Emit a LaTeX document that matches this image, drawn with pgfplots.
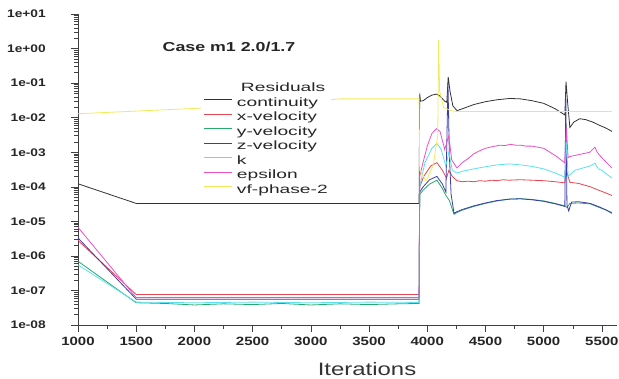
\documentclass[border=0pt]{standalone}
\usepackage{fontspec}
\setmainfont{Liberation Sans}
\newfontfamily\tickfont[FakeStretch=1.25]{Liberation Sans}
\newfontfamily\legfont[FakeStretch=1.6]{Liberation Sans}
\newfontfamily\labfont[FakeStretch=1.33]{Liberation Sans}
\newfontfamily\titfont[FakeStretch=1.37]{Liberation Sans}
\usepackage{pgfplots}
\pgfplotsset{compat=1.18}
\definecolor{ccont}{RGB}{50,50,50}
\definecolor{cxv}{RGB}{230,70,80}
\definecolor{cyv}{RGB}{40,170,110}
\definecolor{czv}{RGB}{60,60,170}
\definecolor{ck}{RGB}{90,225,240}
\definecolor{ceps}{RGB}{235,80,200}
\definecolor{cvf}{RGB}{240,235,90}
\begin{document}
\begin{tikzpicture}
\useasboundingbox (-78pt,-53pt) rectangle (541pt,325pt);
\begin{axis}[
  at={(0pt,0pt)}, anchor=south west, scale only axis,
  width=539pt, height=311pt,
  xmin=1000, xmax=5630, ymin=1e-8, ymax=10, ymode=log,
  axis x line*=bottom, axis y line*=left,
  axis line style={black!75, line width=0.6pt},
  tick style={black!75, line width=0.5pt},
  tick align=outside,
  major tick length=7pt, minor tick length=4pt,
  xtick={1000,1500,2000,2500,3000,3500,4000,4500,5000,5500},
  xticklabels={1000,1500,2000,2500,3000,3500,4000,4500,5000,5500},
  minor xtick={1250,1750,2250,2750,3250,3750,4250,4750,5250},
  ytick={1e-8,1e-7,1e-6,1e-5,1e-4,1e-3,1e-2,1e-1,1,10},
  yticklabels={1e-08,1e-07,1e-06,1e-05,1e-04,1e-03,1e-02,1e-01,1e+00,1e+01},
  minor ytick={2e-8,3e-8,4e-8,5e-8,6e-8,7e-8,8e-8,9e-8,
    2e-7,3e-7,4e-7,5e-7,6e-7,7e-7,8e-7,9e-7,
    2e-6,3e-6,4e-6,5e-6,6e-6,7e-6,8e-6,9e-6,
    2e-5,3e-5,4e-5,5e-5,6e-5,7e-5,8e-5,9e-5,
    2e-4,3e-4,4e-4,5e-4,6e-4,7e-4,8e-4,9e-4,
    2e-3,3e-3,4e-3,5e-3,6e-3,7e-3,8e-3,9e-3,
    2e-2,3e-2,4e-2,5e-2,6e-2,7e-2,8e-2,9e-2,
    2e-1,3e-1,4e-1,5e-1,6e-1,7e-1,8e-1,9e-1,
    2,3,4,5,6,7,8,9},
  xticklabel style={font=\tickfont\bfseries\fontsize{12}{12}\selectfont, text=black!85, inner sep=0pt, anchor=north, yshift=-5pt},
  yticklabel style={font=\tickfont\bfseries\fontsize{11}{11}\selectfont, text=black!85, inner sep=0pt, anchor=east, xshift=-25pt},
  legend style={draw=none, fill=white, inner sep=2pt, at={(0.2282,0.790)}, anchor=north west,
    font=\legfont\fontsize{12}{12}\selectfont, text=black!85,
    nodes={inner sep=1pt, text height=9pt, text depth=3pt},
    row sep=0.5pt, column sep=4pt},
  legend cell align=left,
  legend image code/.code={\draw[#1] (0pt,3.5pt) -- (28pt,3.5pt);},
  every axis plot/.append style={line width=0.8pt},
]
\addlegendimage{empty legend}
\addlegendentry{\hspace{4pt}Residuals}
\addplot[ccont] coordinates {(1000,1.22e-4)(1500,3.3e-5)(3930,3.3e-5)(3935,0.05)(3942,0.03)(3965,0.031)(4000,0.038)(4040,0.045)(4080,0.048)(4110,0.042)(4150,0.03)(4168,0.028)(4180,0.15)(4195,0.06)(4220,0.022)(4255,0.016)(4300,0.018)(4400,0.024)(4500,0.029)(4600,0.033)(4710,0.036)(4800,0.035)(4900,0.031)(5000,0.026)(5100,0.018)(5182,0.012)(5192,0.11)(5205,0.03)(5225,0.0052)(5260,0.0075)(5310,0.0093)(5360,0.0088)(5420,0.0075)(5480,0.006)(5540,0.0049)(5586,0.0040)};
\addlegendentry{continuity}
\addplot[cxv] coordinates {(1000,2.8e-6)(1500,7.6e-8)(3930,7.6e-8)(3935,1e-4)(3970,2e-4)(4030,4e-4)(4083,5e-4)(4130,3e-4)(4165,1.8e-4)(4186,3e-4)(4215,2e-4)(4255,1.5e-4)(4300,1.4e-4)(4350,1.45e-4)(4400,1.4e-4)(4450,1.5e-4)(4500,1.45e-4)(4550,1.55e-4)(4600,1.5e-4)(4650,1.6e-4)(4700,1.55e-4)(4800,1.6e-4)(4900,1.55e-4)(5000,1.5e-4)(5100,1.4e-4)(5182,1.3e-4)(5195,3e-4)(5225,1.35e-4)(5300,1.25e-4)(5400,1.0e-4)(5480,7.8e-5)(5540,6.5e-5)(5586,5.6e-5)};
\addlegendentry{x-velocity}
\addplot[cyv] coordinates {(1000,7e-7)(1500,4.4e-8)(1750,4.2e-8)(2000,3.8e-8)(2250,4.1e-8)(2500,3.9e-8)(2750,4.2e-8)(3000,3.8e-8)(3250,4.1e-8)(3500,3.9e-8)(3750,4.1e-8)(3930,4.2e-8)(3935,6e-5)(3965,8e-5)(4020,1.2e-4)(4083,1.55e-4)(4130,9e-5)(4155,6e-5)(4190,4e-5)(4230,1.6e-5)(4255,1.8e-5)(4300,2.1e-5)(4400,2.7e-5)(4500,3.3e-5)(4600,3.9e-5)(4710,4.4e-5)(4800,4.5e-5)(4900,4.3e-5)(5000,3.9e-5)(5100,3.3e-5)(5182,2.8e-5)(5200,2.5e-5)(5225,3.3e-5)(5300,3.4e-5)(5400,3.2e-5)(5480,2.5e-5)(5540,2.1e-5)(5586,1.8e-5)};
\addlegendentry{y-velocity}
\addplot[czv] coordinates {(1000,3.3e-6)(1500,5.6e-8)(3930,5.6e-8)(3935,7e-5)(3965,1e-4)(4020,1.6e-4)(4083,2e-4)(4130,1.2e-4)(4160,7e-5)(4178,0.1)(4190,8e-4)(4205,6e-5)(4230,1.7e-5)(4255,1.9e-5)(4300,2.2e-5)(4400,2.8e-5)(4500,3.4e-5)(4600,4.0e-5)(4710,4.4e-5)(4800,4.5e-5)(4900,4.2e-5)(5000,3.8e-5)(5100,3.2e-5)(5182,2.7e-5)(5190,0.05)(5200,3e-5)(5215,2e-5)(5240,3.6e-5)(5300,3.7e-5)(5400,3.3e-5)(5480,2.6e-5)(5540,2.1e-5)(5586,1.7e-5)};
\addlegendentry{z-velocity}
\addplot[ck] coordinates {(1000,5.5e-7)(1500,4.6e-8)(2000,4.4e-8)(2500,4.6e-8)(3000,4.4e-8)(3500,4.6e-8)(3930,4.5e-8)(3935,1e-4)(3980,5e-4)(4040,1.3e-3)(4083,1.8e-3)(4120,1.2e-3)(4160,4e-4)(4186,1e-3)(4215,3e-4)(4255,2.5e-4)(4300,2.8e-4)(4400,3.3e-4)(4500,3.8e-4)(4600,4.3e-4)(4710,4.6e-4)(4800,4.3e-4)(4900,3.9e-4)(5000,3.3e-4)(5100,2.5e-4)(5182,1.9e-4)(5195,2e-3)(5210,2e-4)(5268,3e-4)(5350,3.6e-4)(5397,4e-4)(5440,4.8e-4)(5470,3.3e-4)(5500,3e-4)(5550,2.2e-4)(5586,1.8e-4)};
\addlegendentry{k}
\addplot[ceps] coordinates {(1000,6.7e-6)(1500,6.2e-8)(3930,6.2e-8)(3935,2e-4)(3960,4.5e-4)(4000,1.5e-3)(4040,3.5e-3)(4080,4.8e-3)(4110,4e-3)(4150,1.2e-3)(4185,3e-3)(4210,6e-4)(4255,3.5e-4)(4300,5e-4)(4350,6.5e-4)(4400,9e-4)(4450,1.1e-3)(4500,1.3e-3)(4560,1.45e-3)(4624,1.6e-3)(4670,1.55e-3)(4710,1.7e-3)(4760,1.6e-3)(4800,1.6e-3)(4850,1.5e-3)(4900,1.5e-3)(5000,1.3e-3)(5100,8e-4)(5180,5e-4)(5195,5e-3)(5210,7e-4)(5225,7.5e-4)(5300,8.5e-4)(5397,1e-3)(5440,1.4e-3)(5460,1.0e-3)(5483,8e-4)(5540,5e-4)(5586,3.5e-4)};
\addlegendentry{epsilon}
\addplot[cvf] coordinates {(1000,1.3e-2)(1500,1.55e-2)(2000,1.85e-2)(2500,2.3e-2)(3000,2.9e-2)(3250,3.5e-2)(3930,3.5e-2)(3935,3e-4)(3990,1.5e-4)(4050,4e-4)(4090,3e-3)(4098,1.8)(4106,0.06)(4140,0.02)(4200,0.016)(4260,0.015)(5000,0.015)(5586,0.015)};
\addlegendentry{vf-phase-2}
\end{axis}
\node[font=\titfont\bfseries\fontsize{13}{13}\selectfont, text=black!85] at (151pt,278pt) {Case m1 2.0/1.7};
\node[font=\labfont\fontsize{18}{18}\selectfont, text=black!80, anchor=base] at (289pt,-50pt) {Iterations};
\end{tikzpicture}
\end{document}
